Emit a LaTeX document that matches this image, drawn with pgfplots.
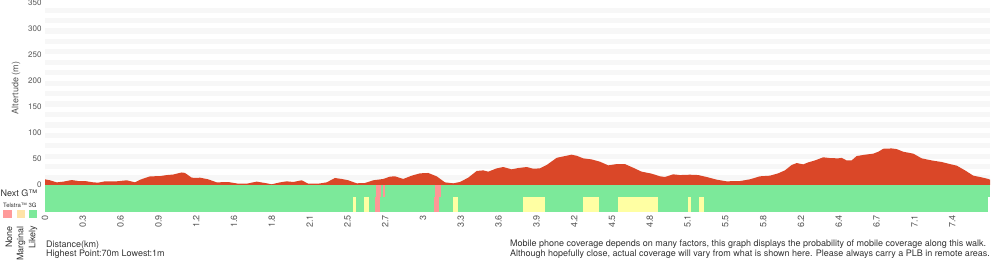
\documentclass[border=0pt]{standalone}
\usepackage{pgfplots}
\pgfplotsset{compat=1.18}
\usepackage{fontspec}
\setmainfont{TeX Gyre Heros}
\definecolor{profred}{HTML}{DA4728}
\definecolor{covgreen}{HTML}{7CE99A}
\definecolor{covred}{HTML}{FF9696}
\definecolor{covyellow}{HTML}{FFFFA3}
\definecolor{legyellow}{HTML}{FFE3A8}
\definecolor{legred}{HTML}{FF9A9A}
\definecolor{stripe}{HTML}{F7F7F7}
\definecolor{labgray}{HTML}{555555}
\definecolor{txtgray}{HTML}{333333}

\pgfplotstableread{
x y
0 0
0.000 10.8
0.041 9
0.096 5
0.150 6.4
0.219 9.5
0.273 7.6
0.328 7.6
0.396 5
0.437 4.5
0.492 7
0.588 7
0.670 9
0.738 5
0.779 10
0.861 16.5
0.943 17
0.998 19
1.052 20
1.121 24
1.148 23
1.203 14
1.244 13.4
1.271 14
1.339 10.8
1.408 5
1.503 5.7
1.585 2.5
1.654 2.5
1.736 6.4
1.804 3.8
1.859 1.3
1.927 5
1.982 7
2.036 5.7
2.105 9
2.159 2.5
2.241 2.5
2.310 5
2.378 13.4
2.433 11.5
2.487 9
2.556 3.2
2.624 3.8
2.692 9
2.774 11.5
2.829 16
2.870 16.6
2.938 11.5
3.007 17.8
3.075 22.3
3.143 23
3.212 16.6
3.280 5
3.348 3.2
3.403 5.7
3.471 14
3.540 26.8
3.594 28
3.635 25.5
3.704 31.8
3.758 34.4
3.827 30
3.881 32.5
3.950 34.4
4.004 31.2
4.059 31.8
4.114 38.2
4.196 52
4.264 55.4
4.319 58
4.360 56
4.414 51
4.483 49
4.551 44.6
4.619 37.6
4.688 40
4.756 40
4.824 33
4.893 25.5
4.975 21.7
5.043 16.6
5.084 15.3
5.152 20.4
5.207 19
5.289 19.7
5.357 19
5.426 15.3
5.508 10.2
5.590 7
5.699 7.6
5.781 10.8
5.863 16.6
5.945 17.8
6.013 22.3
6.068 28
6.123 38.2
6.164 42
6.218 39.5
6.259 43.3
6.314 47
6.382 53
6.437 51.6
6.505 51
6.533 52
6.574 47
6.615 47
6.656 55.4
6.724 58
6.793 60
6.834 63.7
6.875 69.4
6.943 70
6.984 68.8
7.039 63.7
7.121 60
7.190 51
7.272 47
7.354 44
7.422 40
7.477 37
7.545 28
7.613 17.8
7.681 14.6
7.736 11.5
7.750 10.2
7.750 0
}\profile

\begin{document}
\begin{tikzpicture}
\path[use as bounding box] (0,0) rectangle (1000pt,260pt);
\begin{axis}[
  at={(45pt,48.4pt)}, anchor=south west,
  scale only axis, width=945pt, height=209.3pt,
  xmin=0, xmax=7.75, ymin=-51, ymax=350,
  axis line style={draw=none},
  major tick length=0pt, minor tick length=0pt,
  ytick={0,50,...,350},
  minor ytick={15,35,...,335},
  yminorgrids,
  minor grid style={line width=5.22pt, color=stripe},
  xtick={0,0.31,0.62,0.93,1.24,1.55,1.86,2.17,2.48,2.79,3.10,3.41,3.72,4.03,4.34,4.65,4.96,5.27,5.58,5.89,6.20,6.51,6.82,7.13,7.44},
  xticklabels={0,0.3,0.6,0.9,1.2,1.6,1.8,2.1,2.5,2.7,3,3.3,3.6,3.9,4.2,4.5,4.8,5.1,5.5,5.8,6.2,6.4,6.7,7.1,7.4},
  /pgf/number format/assume math mode=true,
  yticklabel style={font=\fontsize{8}{9}\selectfont, text=labgray},
  xticklabel style={font=\fontsize{9}{10}\selectfont, text=labgray, rotate=90, anchor=east},
]
% elevation profile
\addplot[fill=profred, draw=none] table[x=x,y=y] {\profile} --cycle;
% coverage rows (green = likely)
\addplot[fill=covgreen, draw=none] coordinates {(0,0)(7.75,0)(7.75,-22.4)(0,-22.4)} --cycle;
\addplot[fill=covgreen, draw=none] coordinates {(0,-22.4)(7.733,-22.4)(7.733,-51)(0,-51)} --cycle;
% Next G: none
\addplot[fill=covred, draw=none] coordinates {(2.714,0)(2.755,0)(2.755,-22.4)(2.714,-22.4)} --cycle;
\addplot[fill=covred, draw=none] coordinates {(2.774,0)(2.791,0)(2.791,-22.4)(2.774,-22.4)} --cycle;
\addplot[fill=covred, draw=none] coordinates {(3.201,0)(3.245,0)(3.245,-22.4)(3.201,-22.4)} --cycle;
% Telstra 3G: none
\addplot[fill=covred, draw=none] coordinates {(2.706,-22.4)(2.747,-22.4)(2.747,-51)(2.706,-51)} --cycle;
\addplot[fill=covred, draw=none] coordinates {(3.188,-22.4)(3.234,-22.4)(3.234,-51)(3.188,-51)} --cycle;
% Telstra 3G: marginal
\addplot[fill=covyellow, draw=none] coordinates {(2.526,-22.4)(2.548,-22.4)(2.548,-51)(2.526,-51)} --cycle;
\addplot[fill=covyellow, draw=none] coordinates {(2.616,-22.4)(2.655,-22.4)(2.655,-51)(2.616,-51)} --cycle;
\addplot[fill=covyellow, draw=none] coordinates {(3.346,-22.4)(3.387,-22.4)(3.387,-51)(3.346,-51)} --cycle;
\addplot[fill=covyellow, draw=none] coordinates {(3.920,-22.4)(4.100,-22.4)(4.100,-51)(3.920,-51)} --cycle;
\addplot[fill=covyellow, draw=none] coordinates {(4.412,-22.4)(4.541,-22.4)(4.541,-51)(4.412,-51)} --cycle;
\addplot[fill=covyellow, draw=none] coordinates {(4.699,-22.4)(5.025,-22.4)(5.025,-51)(4.699,-51)} --cycle;
\addplot[fill=covyellow, draw=none] coordinates {(5.273,-22.4)(5.297,-22.4)(5.297,-51)(5.273,-51)} --cycle;
\addplot[fill=covyellow, draw=none] coordinates {(5.363,-22.4)(5.402,-22.4)(5.402,-51)(5.363,-51)} --cycle;
\end{axis}
% labels
\node[rotate=90, font=\fontsize{9}{10}\selectfont, text=labgray] at (16pt,172pt) {Altertude (m)};
\node[anchor=base west, inner sep=0pt, font=\fontsize{9}{10}\selectfont, text=txtgray] at (0.5pt,64pt) {Next G™};
\node[anchor=base west, inner sep=0pt, font=\fontsize{6}{7}\selectfont, text=txtgray] at (3pt,52.5pt) {Telstra™ 3G};
\fill[legred] (3pt,50pt) rectangle (12pt,42pt);
\fill[legyellow] (17pt,50pt) rectangle (25pt,42pt);
\fill[covgreen] (29pt,50pt) rectangle (37pt,42pt);
\node[rotate=90, anchor=east, inner sep=0pt, font=\fontsize{9}{10}\selectfont, text=txtgray] at (9pt,34pt) {None};
\node[rotate=90, anchor=east, inner sep=0pt, font=\fontsize{9}{10}\selectfont, text=txtgray] at (21pt,34pt) {Marginal};
\node[rotate=90, anchor=east, inner sep=0pt, font=\fontsize{9}{10}\selectfont, text=txtgray] at (33pt,34pt) {Likely};
\node[anchor=base west, inner sep=0pt, font=\fontsize{9}{10}\selectfont, text=txtgray] at (46pt,13pt) {Distance(km)};
\node[anchor=base west, inner sep=0pt, font=\fontsize{9}{10}\selectfont, text=txtgray] at (46pt,3.5pt) {Highest Point:70m Lowest:1m};
\node[anchor=base west, inner sep=0pt, font=\fontsize{9}{10}\selectfont, text=txtgray] at (510pt,13.5pt) {Mobile phone coverage depends on many factors, this graph displays the probability of mobile coverage along this walk.};
\node[anchor=base west, inner sep=0pt, font=\fontsize{9}{10}\selectfont, text=txtgray] at (510pt,4pt) {Although hopefully close, actual coverage will vary from what is shown here. Please always carry a PLB in remote areas.};
\end{tikzpicture}
\end{document}
